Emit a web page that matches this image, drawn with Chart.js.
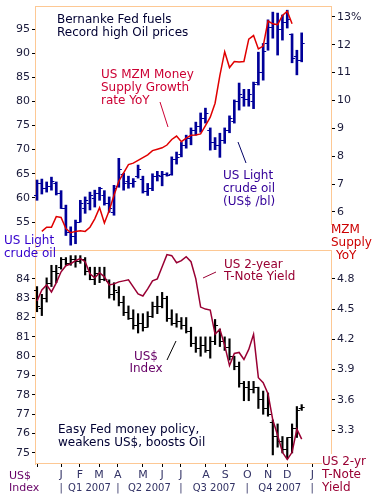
<!DOCTYPE html>
<html>
<head>
<meta charset="utf-8">
<script src="https://cdn.jsdelivr.net/npm/chart.js@4.4.0/dist/chart.umd.min.js"></script>
<style>
  body { margin: 0; background: #fff; }
  #wrap { position: relative; width: 372px; height: 501px; overflow: hidden; font-family: 'DejaVu Sans', Verdana, sans-serif; }
  canvas { position: absolute; left: 0; }
  #topChart { top: 0; }
  #bottomChart { top: 250px; }
  .lbl { position: absolute; font-size: 12px; line-height: 13px; white-space: nowrap; }
  .sm { font-size: 11px; line-height: 12px; }
</style>
</head>
<body>
<div id="wrap">
  <canvas id="topChart" width="372" height="250"></canvas>
  <canvas id="bottomChart" width="372" height="251"></canvas>

  <div class="lbl" style="left:57px;top:13px;color:#000033">Bernanke Fed fuels<br>Record high Oil prices</div>
  <div class="lbl" style="left:101px;top:68px;color:#cc0033">US MZM Money<br>Supply Growth<br>rate YoY</div>
  <div class="lbl" style="left:223px;top:169px;color:#330099">US Light<br>crude oil<br>(US$ /bl)</div>
  <div class="lbl" style="left:4px;top:234px;color:#3300cc">US Light<br>crude oil</div>
  <div class="lbl" style="left:331px;top:223px;color:#cc0000">MZM<br>Supply<br><span style="padding-left:5px">YoY</span></div>

  <div class="lbl" style="left:224px;top:258px;line-height:12px;color:#990033">US 2-year<br>T-Note Yield</div>
  <div class="lbl" style="left:121px;top:350px;width:50px;text-align:center;line-height:12px;color:#660066">US$<br>Index</div>
  <div class="lbl" style="left:58px;top:423px;color:#000033">Easy Fed money policy,<br>weakens US$, boosts Oil</div>
  <div class="lbl sm" style="left:9px;top:470px;color:#660066">US$<br>Index</div>
  <div class="lbl" style="left:322px;top:455px;line-height:13px;color:#990033">US 2-yr<br>T-Note<br>Yield</div>
</div>

<script>
// weekly bars, week 0 = end of Nov 2006
const oilOpen  = [60.5,63.0,62.0,62.5,63.0,61.0,58.0,53.0,52.0,55.0,58.0,59.0,60.0,61.0,60.5,59.0,57.0,62.5,65.0,63.5,63.0,64.5,64.0,61.5,62.0,64.5,64.5,65.0,65.0,68.0,69.0,71.0,72.5,74.0,75.0,76.5,74.0,71.5,71.0,72.0,74.0,76.0,80.0,81.0,80.5,80.0,84.0,86.0,92.0,95.5,96.0,95.0,96.5,94.0,89.5,88.5];
const oilHigh  = [63.7,63.9,63.3,64.3,63.3,61.5,58.5,54.0,55.4,59.5,60.2,61.2,61.6,62.2,61.5,60.2,62.6,68.2,65.1,64.5,64.0,66.8,64.5,63.0,65.0,65.5,65.5,65.2,68.5,69.5,71.5,73.0,74.5,75.7,77.6,78.6,74.5,72.5,73.4,74.5,77.0,80.3,83.8,82.5,82.5,84.0,90.2,92.0,96.9,98.5,98.3,97.9,98.9,94.0,90.6,94.2];
const oilLow   = [59.5,60.8,61.2,61.6,60.6,57.8,52.2,50.2,50.5,55.0,56.8,57.5,58.1,59.5,58.5,57.0,56.4,62.2,61.6,62.0,62.2,64.1,61.0,60.5,61.5,63.5,62.5,64.5,64.7,67.0,68.5,70.3,71.0,73.0,73.6,75.5,69.9,70.0,68.4,71.3,73.5,75.5,78.2,79.0,79.0,78.5,83.4,84.4,90.6,93.1,89.6,92.7,95.2,88.0,85.5,88.2];
const oilClose = [63.0,62.0,62.5,63.5,61.0,58.0,53.0,52.0,55.0,59.0,59.5,60.5,61.0,62.0,59.0,58.0,62.0,66.0,63.0,63.0,63.5,66.0,61.5,62.0,64.5,64.8,65.0,64.8,68.0,68.5,71.0,72.5,74.0,75.0,76.5,77.5,71.5,71.0,72.0,74.0,76.5,80.0,81.5,80.5,81.5,83.5,86.0,90.5,95.5,96.0,95.0,96.5,97.0,89.0,88.5,92.0];

const mzmWeek  = [1,2,3,4,5,6,7,8,9,10,11,12,13,14,15,16,17,18,19,20,21,22,23,24,25,26,27,28,29,30,31,32,33,34,35,36,37,38,39,40,41,42,43,44,45,46,47,48,49,50,51,52,53];
const mzmValue = [5.3,5.45,5.45,5.83,5.8,5.4,5.25,5.3,5.32,5.3,5.45,5.75,6.15,5.6,6.05,6.6,7.1,7.4,7.7,7.75,7.85,7.95,8.05,8.2,8.25,8.3,8.4,8.6,8.72,8.52,8.65,8.75,8.76,8.8,9.1,9.4,9.9,10.9,11.75,11.18,11.4,11.38,11.4,12.2,12.33,11.85,11.95,12.85,12.75,12.72,13.05,13.2,12.75];

const usdOpen  = [83.4,82.5,83.0,83.8,84.4,84.6,85.0,84.8,85.0,84.9,85.0,84.4,84.0,84.3,84.0,83.9,83.2,83.3,82.8,82.3,82.0,81.6,81.7,81.5,82.1,82.6,82.6,83.0,82.0,81.7,81.8,81.6,81.3,80.7,80.4,80.6,80.3,80.8,81.3,80.8,80.5,80.0,79.5,78.6,78.4,78.3,78.4,77.8,77.3,76.6,75.9,75.6,75.2,75.8,76.3,77.3];
const usdHigh  = [83.6,83.2,84.05,84.7,84.7,85.1,85.1,85.2,85.2,85.2,85.1,84.6,84.6,84.6,84.6,83.95,83.8,83.6,83.1,82.6,82.4,82.2,82.2,82.3,82.8,83.1,83.3,83.1,82.4,82.2,82.0,82.0,81.5,81.0,81.0,81.0,81.0,81.9,81.4,81.0,80.9,80.0,79.7,78.7,78.7,78.7,78.4,78.2,78.1,76.7,76.5,75.85,75.8,76.5,77.4,77.5];
const usdLow   = [82.3,82.1,82.8,83.6,83.8,84.5,84.7,84.7,84.6,84.8,84.2,83.95,83.7,83.8,83.9,83.0,82.9,82.6,82.1,81.9,81.4,81.2,81.3,81.5,82.0,82.2,82.5,81.8,81.6,81.5,81.4,81.2,80.5,80.2,80.0,80.2,79.9,80.6,80.5,80.3,79.8,79.3,78.4,77.7,77.7,78.1,77.3,77.0,76.9,74.9,75.3,75.0,74.7,75.0,75.8,77.2];
const usdClose = [82.6,83.0,83.8,84.4,84.3,85.0,84.8,85.0,84.9,85.0,84.4,84.0,84.3,84.0,84.0,83.2,83.4,82.8,82.3,82.0,81.6,81.7,81.5,82.1,82.6,82.6,83.0,82.0,81.7,81.8,81.6,81.3,80.7,80.4,80.6,80.3,80.8,81.6,80.8,80.5,80.0,79.5,78.6,78.4,78.3,78.4,77.8,77.3,77.0,75.9,75.6,75.2,75.8,76.3,77.2,77.4];

const yieldValue = [4.58,4.69,4.74,4.67,4.76,4.87,4.93,4.95,4.98,5.0,4.97,4.85,4.81,4.86,4.82,4.74,4.75,4.77,4.78,4.79,4.72,4.65,4.63,4.7,4.78,4.8,4.92,5.04,5.03,4.96,4.98,5.02,4.97,4.8,4.52,4.5,4.49,4.25,4.3,4.14,3.94,4.06,4.07,4.0,4.1,4.25,3.82,3.77,3.66,3.4,3.25,3.08,3.01,3.08,3.31,3.21];

// axis ticks
const oilTicks   = [55, 60, 65, 70, 75, 80, 85, 90, 95];
const mzmTicks   = [6, 7, 8, 9, 10, 11, 12, 13];
const usdTicks   = [75, 76, 77, 78, 79, 80, 81, 82, 83, 84];
const yieldTicks = [3.3, 3.6, 3.9, 4.2, 4.5, 4.8];
const monthTicks  = [0, 5.0, 8.9, 12.9, 16.8, 22.0, 26.0, 29.9, 35.1, 39.1, 43.7, 48.0, 52.0, 57.2];
const monthLabels = ['', 'J', 'F', 'M', 'A', 'M', 'J', 'J', 'A', 'S', 'O', 'N', 'D', 'J'];
const quarterEdges  = [5.0, 16.8, 29.9, 43.7, 57.2];
const quarterLabels = ['Q1 2007', 'Q2 2007', 'Q3 2007', 'Q4 2007'];

const FONT = "'DejaVu Sans', Verdana, sans-serif";
const FRAME = '#fdc894';
const TICKCOL = '#1a1a3a';
Chart.defaults.font.family = FONT;
Chart.defaults.animation = false;

const weekIdx = oilHigh.map((_, i) => i);

// open tick on the left, close tick on the right of every bar
const ohlcTicks = {
  id: 'ohlcTicks',
  afterDatasetDraw(chart, args) {
    const ds = chart.data.datasets[args.index];
    if (!ds.openVals) return;
    const ctx = chart.ctx;
    const ys = chart.scales[ds.yAxisID];
    ctx.save();
    ctx.strokeStyle = ds.backgroundColor;
    ctx.lineWidth = 1;
    ctx.beginPath();
    args.meta.data.forEach((bar, i) => {
      const yo = Math.round(ys.getPixelForValue(ds.openVals[i])) + 0.5;
      const yc = Math.round(ys.getPixelForValue(ds.closeVals[i])) + 0.5;
      ctx.moveTo(bar.x - 3, yo); ctx.lineTo(bar.x, yo);
      ctx.moveTo(bar.x, yc); ctx.lineTo(bar.x + 3, yc);
    });
    ctx.stroke();
    ctx.restore();
  }
};

// frame lines, pointer lines and quarter row
const decor = {
  id: 'decor',
  afterDraw(chart, args, opts) {
    const ctx = chart.ctx;
    const a = chart.chartArea;
    ctx.save();
    ctx.strokeStyle = FRAME;
    ctx.lineWidth = 1;
    ctx.beginPath();
    if (opts.topLine) { ctx.moveTo(a.left, a.top + 0.5); ctx.lineTo(a.right, a.top + 0.5); }
    // right frame stops short of the corner label
    ctx.moveTo(a.right - 0.5, a.top); ctx.lineTo(a.right - 0.5, a.bottom - opts.rightCut);
    if (opts.bottomCut !== undefined) {
      ctx.moveTo(a.left, a.bottom - 0.5); ctx.lineTo(a.right - opts.bottomCut, a.bottom - 0.5);
    }
    ctx.stroke();
    (opts.pointers || []).forEach(p => {
      ctx.strokeStyle = p.color;
      ctx.beginPath();
      ctx.moveTo(p.from[0], p.from[1]);
      ctx.lineTo(p.to[0], p.to[1]);
      ctx.stroke();
    });
    if (opts.quarters) {
      const xs = chart.scales.x;
      const y = a.bottom + 24;
      ctx.fillStyle = '#333366';
      ctx.font = '10px ' + FONT;
      ctx.textAlign = 'center';
      ctx.textBaseline = 'middle';
      quarterEdges.forEach(v => ctx.fillText('|', xs.getPixelForValue(v), y));
      quarterLabels.forEach((q, i) => {
        const mid = (quarterEdges[i] + quarterEdges[i + 1]) / 2;
        ctx.fillText(q, xs.getPixelForValue(mid), y);
      });
    }
    ctx.restore();
  }
};

function yAxis(pos, min, max, ticks, width, fmt) {
  return {
    position: pos, min: min, max: max,
    afterBuildTicks: s => { s.ticks = ticks.map(v => ({ value: v })); },
    afterFit: s => { s.width = width; s.paddingTop = 0; s.paddingBottom = 0; },
    grid: { drawOnChartArea: false, drawTicks: true, tickLength: 3, color: '#000000' },
    border: { display: pos === 'left', color: FRAME },
    ticks: { color: TICKCOL, font: { size: 11 }, padding: 2, callback: fmt || (v => v) }
  };
}

const xMin = -0.42, xMax = 61.3;

new Chart(document.getElementById('topChart'), {
  type: 'bar',
  data: {
    datasets: [{
      type: 'line',
      data: mzmValue.map((v, i) => ({ x: mzmWeek[i], y: v })),
      yAxisID: 'y2',
      borderColor: '#e00000',
      borderWidth: 1.5,
      pointRadius: 0,
      tension: 0,
      order: 0
    }, {
      data: weekIdx.map(i => ({ x: i, y: [oilLow[i], oilHigh[i]] })),
      openVals: oilOpen,
      closeVals: oilClose,
      yAxisID: 'y',
      backgroundColor: '#000099',
      barThickness: 2,
      borderWidth: 0,
      borderSkipped: false,
      order: 1
    }]
  },
  options: {
    responsive: false,
    layout: { padding: { top: 6, bottom: 3, left: 0, right: 0 } },
    plugins: {
      legend: { display: false }, tooltip: { enabled: false },
      decor: {
        topLine: true,
        rightCut: 22,
        pointers: [
          { color: '#cc0033', from: [160, 102], to: [168, 127] },
          { color: '#000066', from: [238, 142], to: [246, 163] }
        ]
      }
    },
    scales: {
      x: { type: 'linear', min: xMin, max: xMax, offset: false, display: false },
      y: yAxis('left', 49.82, 99.77, oilTicks, 35),
      y2: yAxis('right', 4.74, 13.39, mzmTicks, 40, v => v === 13 ? '13%' : v)
    }
  },
  plugins: [ohlcTicks, decor]
});

new Chart(document.getElementById('bottomChart'), {
  type: 'bar',
  data: {
    datasets: [{
      type: 'line',
      data: yieldValue.map((v, i) => ({ x: i, y: v })),
      yAxisID: 'y2',
      borderColor: '#990033',
      borderWidth: 1.5,
      pointRadius: 0,
      tension: 0,
      order: 0
    }, {
      data: weekIdx.map(i => ({ x: i, y: [usdLow[i], usdHigh[i]] })),
      openVals: usdOpen,
      closeVals: usdClose,
      yAxisID: 'y',
      backgroundColor: '#000000',
      barThickness: 1.5,
      borderWidth: 0,
      borderSkipped: false,
      order: 1
    }]
  },
  options: {
    responsive: false,
    layout: { padding: { top: 0, bottom: 0, left: 0, right: 0 } },
    plugins: {
      legend: { display: false }, tooltip: { enabled: false },
      decor: {
        topLine: true,
        quarters: true,
        rightCut: 10,
        bottomCut: 10,
        pointers: [
          { color: '#990033', from: [203, 28], to: [216, 22] },
          { color: '#000000', from: [167, 110], to: [176, 91] }
        ]
      }
    },
    scales: {
      x: {
        type: 'linear', min: xMin, max: xMax, offset: false,
        afterBuildTicks: s => { s.ticks = monthTicks.map(v => ({ value: v })); },
        afterFit: s => { s.height = 37; s.paddingLeft = 0; s.paddingRight = 0; },
        grid: { drawOnChartArea: false, drawTicks: true, tickLength: 3, color: '#000000', offset: false },
        border: { display: false },
        ticks: {
          color: '#333366', font: { size: 11 }, padding: 2,
          autoSkip: false, maxRotation: 0,
          callback: (v, i) => monthLabels[i]
        }
      },
      y: yAxis('left', 74.43, 85.49, usdTicks, 35),
      y2: yAxis('right', 2.964, 5.086, yieldTicks, 40, v => v.toFixed(1))
    }
  },
  plugins: [ohlcTicks, decor]
});
</script>
</body>
</html>
